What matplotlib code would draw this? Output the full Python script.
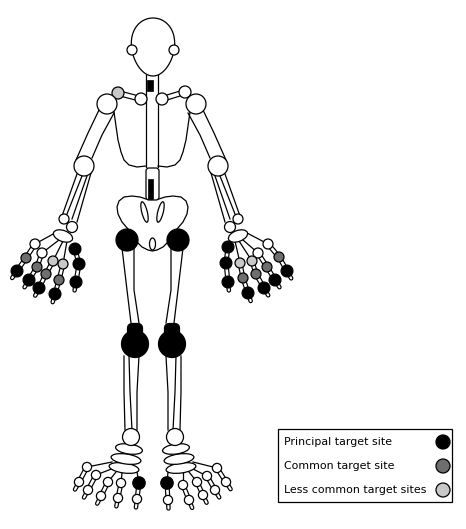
import numpy as np
import matplotlib
matplotlib.use("Agg")
import matplotlib.pyplot as plt
from matplotlib.patches import Circle, Ellipse, Polygon, Rectangle, FancyBboxPatch

# Skeleton diagram of target sites. Image pixel coordinates, y grows downward.
PX = 0.72          # one pixel in points at dpi 100
LW = 0.9           # outline width

level_colors = {"none": "white", "less": "#c8c8c8", "common": "#6e6e6e", "principal": "black"}
legend_labels = ["Principal target site", "Common target site", "Less common target sites"]
legend_levels = ["principal", "common", "less"]

# finger columns (outer -> inner), joints top -> bottom: (x, y, level)
left_hand = [
    [(35, 244, "none"), (26, 258, "common"), (17, 271, "principal")],
    [(42, 253, "none"), (37, 267, "common"), (29, 280, "principal")],
    [(53, 261, "less"), (46, 274, "common"), (39, 288, "principal")],
    [(63, 264, "less"), (59, 280, "common"), (55, 294, "principal")],
    [(75, 249, "principal"), (79, 264, "principal"), (76, 282, "principal")],
]
right_hand = [
    [(268, 244, "none"), (279, 257, "common"), (287, 271, "principal")],
    [(258, 253, "none"), (267, 267, "common"), (275, 280, "principal")],
    [(252, 261, "less"), (256, 274, "common"), (264, 288, "principal")],
    [(240, 263, "less"), (243, 278, "common"), (248, 293, "principal")],
    [(228, 247, "principal"), (226, 263, "principal"), (228, 282, "principal")],
]

# toes (outer -> big toe)
left_foot = [
    [(87, 467, "none"), (79, 482, "none")],
    [(96, 475, "none"), (88, 490, "none")],
    [(108, 482, "none"), (101, 496, "none")],
    [(121, 483, "none"), (118, 498, "none")],
    [(139, 483, "principal"), (137, 499, "none")],
]
right_foot = [
    [(217, 468, "none"), (226, 482, "none")],
    [(207, 476, "none"), (215, 490, "none")],
    [(197, 482, "none"), (203, 495, "none")],
    [(183, 485, "none"), (189, 500, "none")],
    [(167, 483, "principal"), (168, 500, "none")],
]

# single joints: (x, y, radius, level)
big_joints = [
    (132, 50, 5, "none"), (174, 50, 5, "none"),            # jaw
    (118, 93, 6, "less"), (141, 99, 6, "none"),           # clavicle left
    (162, 99, 6, "none"), (185, 92, 6, "none"),           # clavicle right
    (107, 104, 10, "none"), (196, 104, 10, "none"),       # shoulders
    (84, 166, 10, "none"), (218, 166, 10, "none"),        # elbows
    (64, 219, 5, "none"), (72, 227, 5.5, "none"),         # wrist left
    (238, 219, 5, "none"), (230, 227, 5.5, "none"),       # wrist right
    (127, 240, 11, "principal"), (178, 240, 11, "principal"),  # hips
    (135, 344, 13.5, "principal"), (172, 344, 13.5, "principal"),  # knees
    (131, 437, 8.5, "none"), (175, 437, 8.5, "none"),     # ankles
]


def line(ax, pts, z=1, lw=LW):
    xs, ys = zip(*pts)
    ax.plot(xs, ys, color="black", lw=lw, zorder=z, solid_joinstyle="round")


def bone(ax, pts, w=5, z=2, cap="butt"):
    xs, ys = zip(*pts)
    ax.plot(xs, ys, color="black", lw=w * PX, solid_capstyle=cap, zorder=z)
    ax.plot(xs, ys, color="white", lw=(w - 2.4) * PX, solid_capstyle=cap, zorder=z + 0.1)


def joint(ax, x, y, r, level, z=4):
    ax.add_patch(Circle((x, y), r, fc=level_colors[level], ec="black", lw=LW, zorder=z))


def mirror(pts, axis):
    return [(2 * axis - x, y) for x, y in pts]


def draw_digits(ax, columns, r_first=5.0, r_dark=5.9):
    for col in columns:
        pts = [(x, y) for x, y, _ in col]
        bone(ax, pts, w=5)
        (x1, y1), (x2, y2) = pts[-2], pts[-1]
        d = np.array([x2 - x1, y2 - y1], float)
        d /= np.hypot(*d)
        end = (x2 + d[0] * 8.5, y2 + d[1] * 8.5)
        bone(ax, [(x2, y2), end], w=4.5, cap="round")
        for x, y, lev in col:
            r = r_dark if lev == "principal" else r_first
            joint(ax, x, y, r, lev)


fig = plt.figure(figsize=(4.66, 5.29), dpi=100)
ax = fig.add_axes([0, 0, 1, 1])
ax.set_xlim(0, 466)
ax.set_ylim(529, 0)
ax.axis("off")

# head
t = np.linspace(0, 2 * np.pi, 200)
hx = 153 + 21.5 * np.cos(t) * (1 - 0.13 * np.sin(t))
hy = 47 + 29 * np.sin(t)
ax.add_patch(Polygon(np.column_stack([hx, hy]), closed=True, fc="white", ec="black", lw=LW, zorder=3))

# thoracic spine
line(ax, [(146, 75), (146, 167)])
line(ax, [(158, 75), (158, 167)])
ax.add_patch(Rectangle((147, 80), 5.5, 11, fc="black", ec="black", lw=0.5, zorder=3))

# ribcage sides
rib = [(114, 112), (116, 126), (118, 140), (121, 152), (124, 160), (129, 165), (137, 167), (146, 166)]
line(ax, rib)
line(ax, mirror(rib, 152))

# clavicles
bone(ax, [(118, 93), (141, 99)], w=6)
bone(ax, [(185, 92), (162, 99)], w=6)

# lumbar spine
ax.add_patch(FancyBboxPatch((147, 169), 11, 30, boxstyle="round,pad=1,rounding_size=3",
                            fc="white", ec="black", lw=LW, zorder=2))
ax.add_patch(Rectangle((147.5, 179), 5.5, 20, fc="black", ec="black", lw=0.5, zorder=3))

# pelvis
half = [(146, 199), (140, 197), (132, 196), (124, 197), (119, 201), (117, 207), (118, 214),
        (122, 222), (128, 229), (133, 235), (137, 242), (142, 247), (148, 250), (152.5, 251)]
pelvis = half + mirror(half, 152.5)[::-1]
ax.add_patch(Polygon(pelvis, closed=True, fc="white", ec="black", lw=LW, zorder=1.5))
ax.add_patch(Ellipse((144.5, 212), 21, 5.5, angle=76, fc="white", ec="black", lw=LW, zorder=2))
ax.add_patch(Ellipse((160.5, 212), 21, 5.5, angle=104, fc="white", ec="black", lw=LW, zorder=2))
ax.add_patch(Ellipse((152.5, 244), 6, 12, fc="white", ec="black", lw=LW, zorder=2))

# arms (left side, mirrored for right)
upper_arm = [[(99, 110), (88, 133), (76, 160)], [(114, 113), (102, 135), (92, 158)]]
fore_arm = [[(77, 174), (62, 216)], [(82, 176), (67, 214)], [(87, 176), (72, 219)], [(91, 173), (77, 222)]]
for seg in upper_arm + fore_arm:
    line(ax, seg)
    line(ax, mirror(seg, 151))

# carpals
ax.add_patch(Ellipse((63, 236), 20, 11, angle=20, fc="white", ec="black", lw=LW, zorder=3))
ax.add_patch(Ellipse((238, 236), 20, 11, angle=-20, fc="white", ec="black", lw=LW, zorder=3))
hand_roots = [(55, 233), (59, 240), (63, 241), (67, 241)]
for (rx, ry), col in zip(hand_roots, left_hand):
    line(ax, [(rx, ry), col[0][:2]])
for (rx, ry), col in zip(mirror(hand_roots, 151), right_hand):
    line(ax, [(rx, ry), col[0][:2]])
draw_digits(ax, left_hand)
draw_digits(ax, right_hand)

# legs
femur = [[(122, 248), (127, 290), (131, 323)], [(134, 248), (134, 290), (139, 323)]]
tibia = [[(124, 356), (124, 392), (125, 430)], [(129, 356), (130, 392), (132, 430)],
         [(139, 356), (137, 392), (137, 430)]]
for seg in femur + tibia:
    line(ax, seg)
    line(ax, mirror(seg, 152.5))

# knee caps above the joint
for kx in (135, 172):
    ax.add_patch(FancyBboxPatch((kx - 6, 325), 12, 14, boxstyle="round,pad=1.5,rounding_size=5",
                                fc="black", ec="black", lw=LW, zorder=3.5))

# tarsals
for cx, cy, w in [(124, 468, 30), (126, 459, 30), (129, 449, 27)]:
    ax.add_patch(Ellipse((cx, cy), w, 10, angle=8, fc="white", ec="black", lw=LW, zorder=3))
    ax.add_patch(Ellipse((305 - cx, cy), w, 10, angle=-8, fc="white", ec="black", lw=LW, zorder=3))
foot_roots = [(112, 462), (114, 468), (116, 472), (122, 473), (137, 472)]
for (rx, ry), col in zip(foot_roots, left_foot):
    line(ax, [(rx, ry), col[0][:2]])
for (rx, ry), col in zip(mirror(foot_roots, 152.5), right_foot):
    line(ax, [(rx, ry), col[0][:2]])
draw_digits(ax, left_foot, r_first=4.6, r_dark=6.2)
draw_digits(ax, right_foot, r_first=4.6, r_dark=6.2)

for x, y, r, lev in big_joints:
    joint(ax, x, y, r, lev)

# legend box
ax.add_patch(Rectangle((278, 429), 174, 73, fc="white", ec="black", lw=LW, zorder=5))
for i, (lab, lev) in enumerate(zip(legend_labels, legend_levels)):
    y = 442 + i * 24
    ax.text(284, y, lab, fontsize=7.9, family="DejaVu Sans", va="center", ha="left", zorder=6)
    joint(ax, 443, y, 7, lev, z=6)

fig.savefig("out.png", dpi=100)
